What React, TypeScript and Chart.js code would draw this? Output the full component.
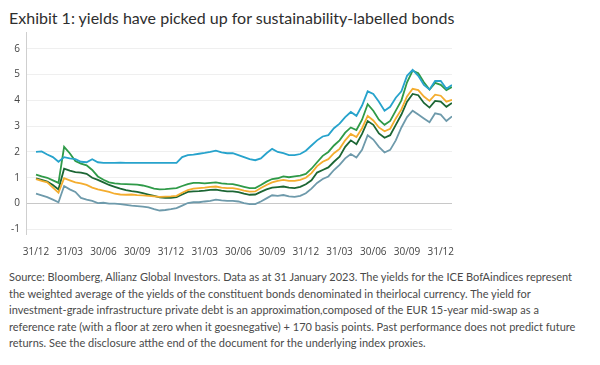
import React, { useEffect, useRef } from 'react';
import { Chart, registerables } from 'chart.js';

Chart.register(...registerables);

// Quarter-end tick labels (Dec 2019 – Dec 2022)
const tickLabels = ['31/12', '31/03', '30/06', '30/09', '31/12', '31/03', '30/06', '30/09', '31/12', '31/03', '30/06', '30/09', '31/12'];
// Position of each quarter end in the half-month series below (0 = 31/12/2019)
const tickIndex = [0, 6, 12, 18, 24, 30, 36, 42, 48, 54, 60, 66, 72];
const yTicks = [-1, 0, 1, 2, 3, 4, 5, 6];

// Half-monthly yields (%), 31/12/2019 – 31/01/2023
const infraDebt = [
  2.0, 2.02, 1.9, 1.8, 1.62, 1.8, 1.75, 1.72, 1.62, 1.6, 1.72, 1.6, 1.58,
  1.58, 1.58, 1.59, 1.58, 1.58, 1.58, 1.58, 1.58, 1.58, 1.58, 1.58, 1.58, 1.58,
  1.8, 1.88, 1.9, 1.93, 1.96, 2.0, 2.05, 1.98, 1.95, 1.95, 1.88, 1.8, 1.72,
  1.68, 1.75, 1.95, 2.12, 2.0, 1.95, 1.88, 1.88, 1.92, 2.05, 2.25, 2.45, 2.6,
  2.65, 2.92, 3.1, 3.35, 3.55, 3.4, 3.8, 4.35, 4.25, 3.95, 3.6, 3.75, 4.1,
  4.35, 4.95, 5.18, 4.95, 4.6, 4.42, 4.75, 4.75, 4.45, 4.6,
];
const highYield = [
  1.12, 1.05, 1.0, 0.9, 0.8, 2.2, 1.95, 1.65, 1.55, 1.48, 1.3, 1.05, 0.92,
  0.82, 0.78, 0.76, 0.75, 0.74, 0.73, 0.7, 0.65, 0.58, 0.55, 0.56, 0.58, 0.6,
  0.68, 0.75, 0.8, 0.8, 0.78, 0.8, 0.82, 0.78, 0.76, 0.75, 0.7, 0.65, 0.6,
  0.6, 0.72, 0.85, 0.95, 0.98, 1.05, 1.02, 1.05, 1.08, 1.15, 1.35, 1.6, 1.85,
  2.0, 2.25, 2.45, 2.75, 2.95, 2.85, 3.25, 3.85, 3.6, 3.25, 3.05, 3.2, 3.6,
  4.0, 4.7, 5.15, 5.05, 4.7, 4.42, 4.68, 4.6, 4.4, 4.52,
];
const sustainability = [
  0.95, 0.88, 0.82, 0.62, 0.42, 0.98, 0.9, 0.82, 0.78, 0.72, 0.62, 0.55, 0.5,
  0.45, 0.38, 0.35, 0.34, 0.35, 0.33, 0.32, 0.3, 0.28, 0.26, 0.27, 0.28, 0.3,
  0.42, 0.52, 0.58, 0.6, 0.62, 0.65, 0.66, 0.62, 0.6, 0.6, 0.56, 0.5, 0.46,
  0.47, 0.6, 0.72, 0.82, 0.88, 0.92, 0.88, 0.88, 0.92, 1.0, 1.18, 1.45, 1.62,
  1.72, 1.95, 2.12, 2.45, 2.7, 2.58, 2.92, 3.4, 3.22, 2.95, 2.8, 2.9, 3.3,
  3.65, 4.15, 4.45, 4.4, 4.15, 3.98, 4.22, 4.18, 3.95, 4.02,
];
const greenBonds = [
  0.98, 0.92, 0.85, 0.72, 0.55, 1.35, 1.28, 1.22, 1.2, 1.15, 1.0, 0.92, 0.82,
  0.72, 0.65, 0.58, 0.52, 0.48, 0.45, 0.4, 0.35, 0.3, 0.24, 0.22, 0.22, 0.25,
  0.35, 0.45, 0.47, 0.48, 0.5, 0.53, 0.54, 0.5, 0.47, 0.47, 0.44, 0.38, 0.34,
  0.35, 0.45, 0.55, 0.62, 0.64, 0.66, 0.62, 0.6, 0.65, 0.75, 0.9, 1.2, 1.3,
  1.4, 1.62, 1.82, 2.2, 2.45, 2.3, 2.7, 3.2, 3.05, 2.72, 2.55, 2.65, 3.05,
  3.45, 3.95, 4.25, 4.2, 3.9, 3.72, 3.98, 3.95, 3.75, 3.9,
];
const govBonds = [
  0.38, 0.32, 0.25, 0.15, 0.05, 0.68, 0.55, 0.45, 0.22, 0.15, 0.1, 0.02, 0.03,
  0.0, 0.0, -0.02, -0.05, -0.08, -0.1, -0.12, -0.15, -0.22, -0.27, -0.25, -0.22, -0.18,
  -0.08, 0.02, 0.05, 0.05, 0.08, 0.1, 0.15, 0.12, 0.1, 0.1, 0.08, 0.02, -0.02,
  -0.02, 0.08, 0.2, 0.32, 0.3, 0.33, 0.28, 0.26, 0.3, 0.4, 0.58, 0.8, 0.95,
  1.05, 1.3, 1.5, 1.75, 1.92, 1.78, 2.08, 2.65, 2.48, 2.2, 1.98, 2.08, 2.45,
  2.95, 3.35, 3.6, 3.45, 3.3, 3.15, 3.5, 3.45, 3.2, 3.38,
];

const sourceLines = [
  'Source: Bloomberg, Allianz Global Investors. Data as at 31 January 2023. The yields for the ICE BofAindices represent',
  'the weighted average of the yields of the constituent bonds denominated in theirlocal currency. The yield for',
  'investment-grade infrastructure private debt is an approximation,composed of the EUR 15-year mid-swap as a',
  'reference rate (with a floor at zero when it goesnegative) + 170 basis points. Past performance does not predict future',
  'returns. See the disclosure atthe end of the document for the underlying index proxies.',
];

const toPoints = (arr: number[]) => arr.map((y, i) => ({ x: i, y }));

export default function App() {
  const ref = useRef<HTMLCanvasElement | null>(null);

  useEffect(() => {
    if (!ref.current) return;
    const mk = (label: string, data: number[], color: string) => ({
      label,
      data: toPoints(data),
      borderColor: color,
      backgroundColor: color,
      borderWidth: 1.8,
      pointRadius: 0,
      tension: 0,
      fill: false,
    });
    const chart = new Chart(ref.current, {
      type: 'line',
      data: {
        datasets: [
          mk('Infrastructure private debt', infraDebt, '#27a3cc'),
          mk('High yield', highYield, '#2f9a48'),
          mk('Sustainability-labelled', sustainability, '#f4ad2f'),
          mk('Green bonds', greenBonds, '#1c6634'),
          mk('Government bonds', govBonds, '#6e9aab'),
        ],
      },
      options: {
        animation: false,
        responsive: false,
        maintainAspectRatio: false,
        events: [],
        layout: { padding: { top: 32, right: 18, left: 0, bottom: 0 } },
        plugins: { legend: { display: false }, tooltip: { enabled: false } },
        scales: {
          x: {
            type: 'linear',
            min: -1.78,
            max: 74,
            grid: { display: false },
            border: { display: false },
            afterBuildTicks: (s: any) => {
              s.ticks = tickIndex.map((v) => ({ value: v }));
            },
            afterFit: (s: any) => {
              s.height = 27.5;
            },
            ticks: {
              autoSkip: false,
              maxRotation: 0,
              padding: 4,
              color: '#444',
              font: { family: 'Open Sans', size: 10 },
              callback: (_v: any, i: number) => tickLabels[i] ?? '',
            },
          },
          y: {
            min: -1.2,
            max: 6.65,
            afterBuildTicks: (s: any) => {
              s.ticks = yTicks.map((v) => ({ value: v }));
            },
            afterFit: (s: any) => {
              s.width = 26;
            },
            grid: {
              drawTicks: false,
              color: (ctx: any) => (ctx.tick && ctx.tick.value === 0 ? '#c8c8c8' : '#efefef'),
              lineWidth: 1,
            },
            border: { display: true, color: '#cfcfcf', width: 1 },
            ticks: {
              padding: 6,
              color: '#444',
              font: { family: 'Open Sans', size: 10 },
              callback: (v: any) => String(v),
            },
          },
        },
      },
    });
    return () => chart.destroy();
  }, []);

  return (
    <div style={{ position: 'absolute', left: 0, top: 0, width: 600, height: 365, background: '#fff', overflow: 'hidden' }}>
      <div
        style={{
          position: 'absolute',
          left: 9,
          top: 8,
          fontFamily: 'Lato, "Open Sans", sans-serif',
          fontSize: 16,
          lineHeight: '19px',
          color: '#2e2e2e',
          whiteSpace: 'nowrap',
        }}
      >
        Exhibit 1: yields have picked up for sustainability-labelled bonds
      </div>
      <canvas ref={ref} width={470} height={262} style={{ position: 'absolute', left: 0, top: 0, width: 470, height: 262 }} />
      <div
        style={{
          position: 'absolute',
          left: 9,
          top: 269,
          fontFamily: 'Lato, "Open Sans", sans-serif',
          fontSize: 11,
          lineHeight: '16.5px',
          color: '#4a4a4a',
        }}
      >
        {sourceLines.map((l, i) => (
          <div key={i} style={{ whiteSpace: 'nowrap' }}>
            {l}
          </div>
        ))}
      </div>
    </div>
  );
}
